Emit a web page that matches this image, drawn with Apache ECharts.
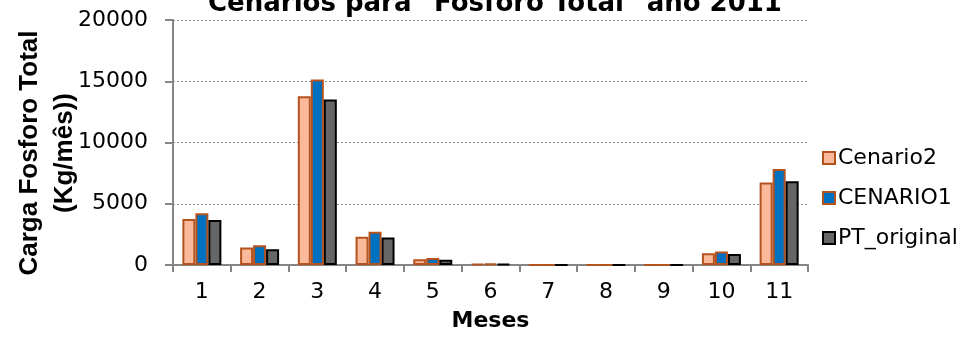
<!DOCTYPE html>
<html>
<head>
<meta charset="utf-8">
<script src="https://cdn.jsdelivr.net/npm/echarts@6/dist/echarts.min.js"></script>
<style>html,body{margin:0;padding:0;background:#fff}#c{width:961px;height:337px}</style>
</head>
<body>
<div id="c"></div>
<script>
var categories = ['1','2','3','4','5','6','7','8','9','10','11'];
var cenario2 = [3750, 1430, 13770, 2300, 460, 100, 15, 15, 15, 950, 6740];
var cenario1 = [4230, 1620, 15140, 2720, 580, 110, 15, 15, 15, 1110, 7840];
var ptOriginal = [3670, 1290, 13520, 2240, 420, 90, 15, 15, 15, 890, 6840];
var seriesNames = ['Cenario2', 'CENARIO1', 'PT_original'];
var titleText = 'Cenarios para "Fosforo Total" ano 2011';
var yTitle = 'Carga Fosforo Total\n(Kg/mês))';
var xTitle = 'Meses';

var chart = echarts.init(document.getElementById('c'), null, {renderer:'canvas'});
var axisGray = '#868686';
chart.setOption({
  animation: false,
  backgroundColor: '#ffffff',
  title: {
    text: titleText,
    left: 490, textAlign: 'center', top: -14,
    textStyle: {fontFamily: 'DejaVu Sans', fontWeight: 'bold', fontSize: 26, color: '#000'}
  },
  graphic: [{
    type: 'text', x: 47, y: 153, rotation: Math.PI/2,
    style: {text: yTitle, font: 'bold 26px "Liberation Sans"', fill: '#000',
      textAlign: 'center', textVerticalAlign: 'middle', lineHeight: 35}
  }],
  legend: {
    orient: 'vertical', left: 817, top: 142,
    itemWidth: 12, itemHeight: 12, itemGap: 18, icon: 'rect',
    textStyle: {fontFamily: 'DejaVu Sans', fontSize: 22, color: '#000', lineHeight: 22, padding: [0, 0, 0, -2]},
    data: seriesNames
  },
  grid: {left: 173, right: 153, top: 20, bottom: 69.5, containLabel: false},
  xAxis: {
    type: 'category', data: categories,
    name: xTitle, nameLocation: 'middle', nameGap: 45,
    nameTextStyle: {fontFamily: 'DejaVu Sans', fontWeight: 'bold', fontSize: 22, color: '#000'},
    axisLine: {lineStyle: {color: axisGray, width: 2}},
    axisTick: {show: true, length: 7, lineStyle: {color: axisGray, width: 2}},
    axisLabel: {fontFamily: 'DejaVu Sans', fontSize: 22, color: '#000', margin: 16}
  },
  yAxis: {
    type: 'value', min: 0, max: 20000, interval: 5000,
    axisLine: {show: true, lineStyle: {color: axisGray, width: 2}},
    axisTick: {show: true, length: 8, lineStyle: {color: axisGray, width: 2}},
    axisLabel: {fontFamily: 'DejaVu Sans', fontSize: 22, color: '#000', margin: 25,
      formatter: function (v) { return String(v); }},
    splitLine: {show: true, lineStyle: {color: '#8a8a8a', width: 1, type: [2, 2]}}
  },
  series: [
    {name: seriesNames[0], type: 'bar', data: cenario2, barWidth: 13, barGap: '0%',
     itemStyle: {color: '#F9B99A', borderColor: '#B5531F', borderWidth: 2}},
    {name: seriesNames[1], type: 'bar', data: cenario1, barWidth: 13, barGap: '0%',
     itemStyle: {color: '#0070C0', borderColor: '#B5531F', borderWidth: 2}},
    {name: seriesNames[2], type: 'bar', data: ptOriginal, barWidth: 13, barGap: '0%',
     itemStyle: {color: '#666666', borderColor: '#000000', borderWidth: 2}}
  ]
});
</script>
</body>
</html>
